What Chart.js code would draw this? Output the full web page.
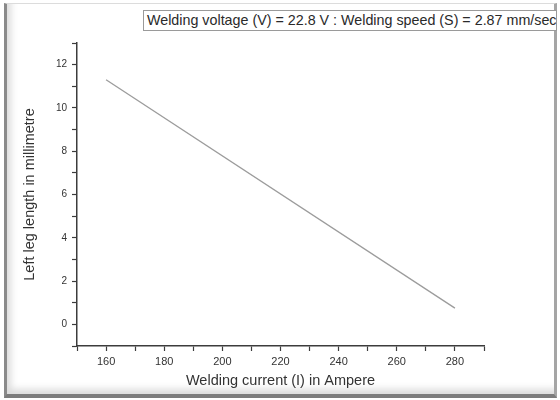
<!DOCTYPE html>
<html lang="en">
<head>
  <meta charset="UTF-8">
  <title>Left leg length vs welding current</title>
  <script src="https://cdn.jsdelivr.net/npm/chart.js"></script>
  <style>
    body {
      margin: 0;
      background-color: #ffffff;
      font-family: 'Liberation Sans', Arial, sans-serif;
    }

    #frame {
      position: absolute;
      left: 4px;
      top: 3px;
      width: 553px;
      height: 395px;
      box-sizing: border-box;
      background-color: #ffffff;
      border-top: 1px solid #dcdcdc;
      border-left: 3px solid #8a8a8a;
      border-right: 3px solid #a5a5a5;
      border-bottom: 4px solid #7c7c7c;
      box-shadow: inset 7px -8px 7px -3px rgba(0, 0, 0, 0.14);
    }

    #note {
      position: absolute;
      left: 143px;
      top: 10px;
      width: 414px;
      height: 21px;
      box-sizing: border-box;
      border: 1px solid #9a9a9a;
      background-color: #ffffff;
      color: #2a2a2a;
      font-size: 14.3px;
      line-height: 19px;
      padding-left: 3px;
      white-space: nowrap;
      overflow: hidden;
    }

    canvas {
      position: absolute;
      left: 0;
      top: 0;
    }
  </style>
</head>
<body>

  <div id="frame"></div>
  <canvas id="myChart" width="560" height="400"></canvas>
  <div id="note">Welding voltage (V) = 22.8 V : Welding speed (S) = 2.87 mm/sec</div>

  <script>
    // welding current (A) and left leg length (mm)
    var currents = [160, 280];
    var leftLeg = [11.3, 0.75];

    var xTitle = 'Welding current (I) in Ampere';
    var yTitle = 'Left leg length in millimetre';

    var points = currents.map(function (c, i) {
      return { x: c, y: leftLeg[i] };
    });

    var axisColor = '#3c3c3c';
    var textColor = '#333333';

    var ctx = document.getElementById('myChart').getContext('2d');
    var myChart = new Chart(ctx, {
      type: 'line',
      data: {
        datasets: [{
          data: points,
          borderColor: '#9c9c9c',
          borderWidth: 1.3,
          pointRadius: 0,
          tension: 0,
          fill: false
        }]
      },
      options: {
        responsive: false,
        animation: false,
        layout: { padding: { top: 43, right: 76, left: 0, bottom: 0 } },
        plugins: {
          legend: { display: false },
          tooltip: { enabled: false }
        },
        scales: {
          x: {
            type: 'linear',
            min: 150,
            max: 290,
            afterFit: function (scale) { scale.height = 54; },
            border: { color: axisColor, width: 1.5 },
            grid: { drawOnChartArea: false, tickLength: 5, color: axisColor, tickWidth: 1.2 },
            ticks: {
              stepSize: 10,
              autoSkip: false,
              maxRotation: 0,
              padding: 4,
              color: textColor,
              font: { family: 'Liberation Sans', size: 11 },
              callback: function (v) { return v % 20 === 0 ? v : ''; }
            },
            title: {
              display: true,
              text: xTitle,
              color: textColor,
              font: { family: 'Liberation Sans', size: 14.5 },
              padding: { top: 0, bottom: 10 }
            }
          },
          y: {
            min: -1,
            max: 13,
            afterFit: function (scale) { scale.width = 77; },
            border: { color: axisColor, width: 1.5 },
            grid: { drawOnChartArea: false, tickLength: 5, color: axisColor, tickWidth: 1.2 },
            ticks: {
              stepSize: 1,
              autoSkip: false,
              padding: 5,
              color: textColor,
              font: { family: 'Liberation Sans', size: 10 },
              callback: function (v) { return v % 2 === 0 ? v : ''; }
            },
            title: {
              display: true,
              text: yTitle,
              color: textColor,
              font: { family: 'Liberation Sans', size: 14.5 },
              padding: { top: 21, bottom: 0 }
            }
          }
        }
      }
    });
  </script>

</body>
</html>
